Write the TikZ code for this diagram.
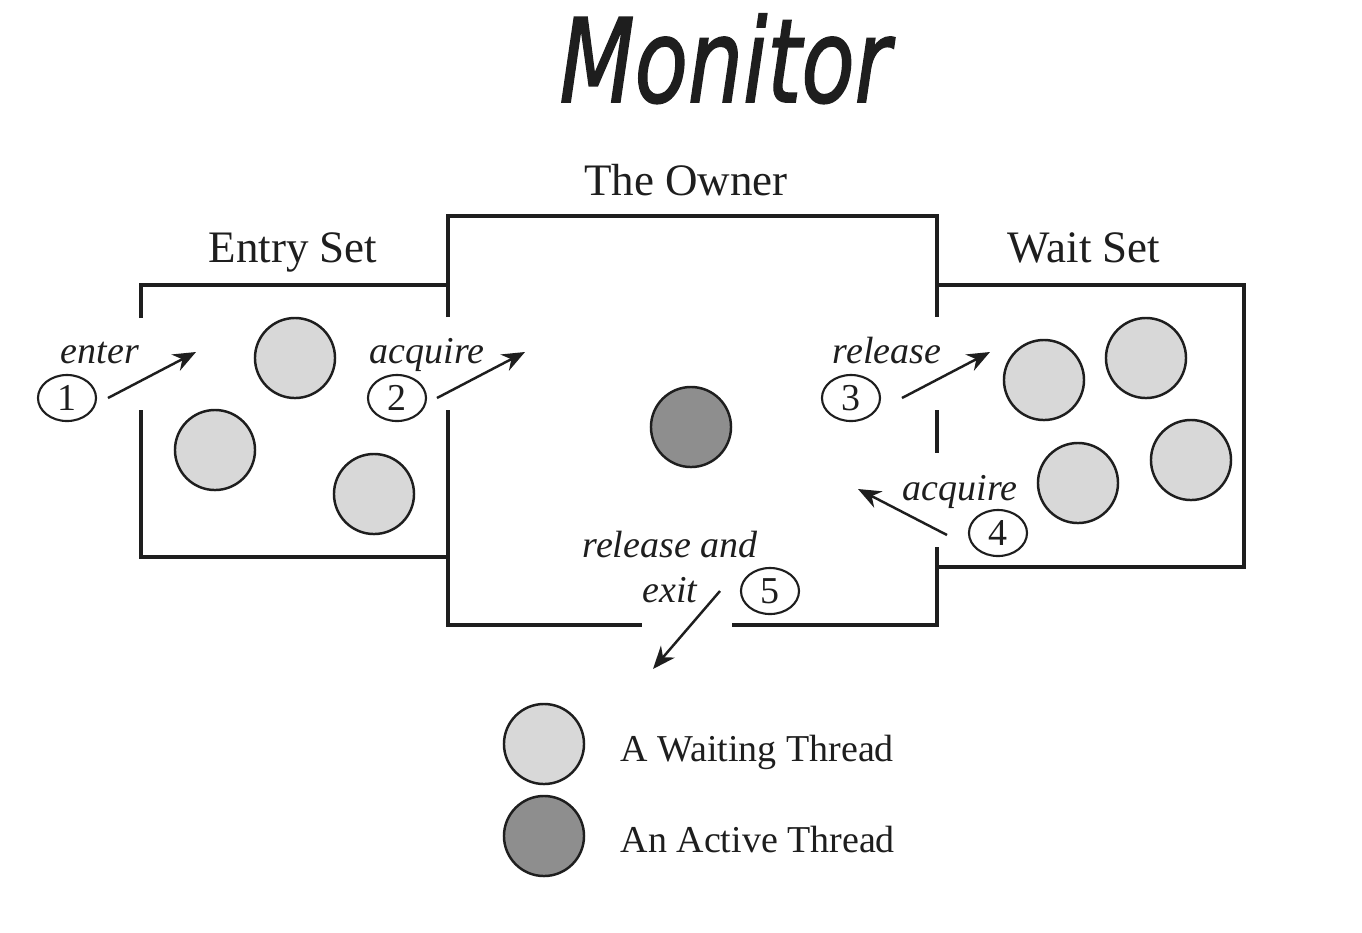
\documentclass[tikz,border=0pt]{standalone}
\usepackage{fontspec}
\setmainfont{Liberation Serif}
\newfontfamily\handfont[FakeBold=1.6]{DejaVu Sans}
\usetikzlibrary{arrows.meta,shapes.geometric}
\definecolor{waitfill}{HTML}{D8D8D8}
\definecolor{activefill}{HTML}{8E8E8E}
\definecolor{ink}{HTML}{1E1E1E}
\tikzset{
  boxline/.style={draw=ink, line width=0.9pt},
  thread/.style={circle, draw=ink, line width=0.7pt, minimum size=0.8cm, inner sep=0pt},
  waiting/.style={thread, fill=waitfill},
  active/.style={thread, fill=activefill},
  heading/.style={font=\fontsize{12.8}{14}\selectfont, text=ink, anchor=base, inner sep=0pt},
  actlabel/.style={font=\fontsize{10.8}{12}\selectfont\itshape, text=ink, anchor=base, inner sep=0pt},
  numtag/.style={ellipse, draw=ink, line width=0.6pt, minimum width=0.58cm, minimum height=0.46cm, inner sep=0pt, font=\fontsize{10.8}{12}\selectfont, text=ink},
  flow/.style={draw=ink, line width=0.7pt, -{Stealth[length=6.5pt,width=5.2pt]}},
  legendtext/.style={font=\fontsize{10.8}{12}\selectfont, text=ink, anchor=base west, inner sep=0pt}
}
\begin{document}
\begin{tikzpicture}[x=0.01cm,y=-0.01cm]
\useasboundingbox (0,0) rectangle (1362,932);
\fill[white] (0,0) rectangle (1362,932);

% title
\node[anchor=base, inner sep=0pt, text=ink, font=\handfont\itshape\fontsize{33}{36}\selectfont, xscale=0.75] (title) at (725,102) {Monitor};

% headings
\node[heading] (hentry) at (293,262) {Entry Set};
\node[heading] (howner) at (686,195) {The Owner};
\node[heading] (hwait) at (1084,262) {Wait Set};

% entry set box
\draw[boxline] (141,318) -- (141,285) -- (448,285);
\draw[boxline] (141,410) -- (141,557) -- (448,557);
% owner box
\draw[boxline] (448,317) -- (448,216) -- (937,216) -- (937,317);
\draw[boxline] (448,410) -- (448,625) -- (642,625);
\draw[boxline] (732,625) -- (937,625) -- (937,547);
\draw[boxline] (937,410) -- (937,453);
% wait set box
\draw[boxline] (937,285) -- (1244,285) -- (1244,567) -- (937,567);

% threads
\node[waiting] (e1) at (295,358) {};
\node[waiting] (e2) at (215,450) {};
\node[waiting] (e3) at (374,494) {};
\node[active] (own) at (691,427) {};
\node[waiting] (w1) at (1044,380) {};
\node[waiting] (w2) at (1146,358) {};
\node[waiting] (w3) at (1078,483) {};
\node[waiting] (w4) at (1191,460) {};

% step tags
\node[numtag] (n1) at (67,398) {1};
\node[numtag] (n2) at (397,398) {2};
\node[numtag] (n3) at (851,398) {3};
\node[numtag] (n4) at (998,533) {4};
\node[numtag] (n5) at (770,591) {5};

% action labels
\node[actlabel] (lenter) at (100,363) {enter};
\node[actlabel] (lacq1) at (427,363) {acquire};
\node[actlabel] (lrel) at (887,363) {release};
\node[actlabel] (lacq2) at (960,500) {acquire};
\node[actlabel] (lrelexit) at (670,557) {release and};
\node[actlabel] (lexit) at (670,602) {exit};

% arrow end points
\coordinate (a1s) at (108,398); \coordinate (a1e) at (196,352);
\coordinate (a2s) at (437,398); \coordinate (a2e) at (525,352);
\coordinate (a3s) at (902,398); \coordinate (a3e) at (990,352);
\coordinate (a4s) at (947,535); \coordinate (a4e) at (858,489);
\coordinate (a5s) at (720,591); \coordinate (a5e) at (653,669);
\draw[flow] (a1s) -- (a1e);
\draw[flow] (a2s) -- (a2e);
\draw[flow] (a3s) -- (a3e);
\draw[flow] (a4s) -- (a4e);
\draw[flow] (a5s) -- (a5e);

% legend
\node[waiting] (legw) at (544,744) {};
\node[active] (lega) at (544,836) {};
\node[legendtext] (legwt) at (620,761) {A Waiting Thread};
\node[legendtext] (legat) at (620,852) {An Active Thread};
\end{tikzpicture}
\end{document}
